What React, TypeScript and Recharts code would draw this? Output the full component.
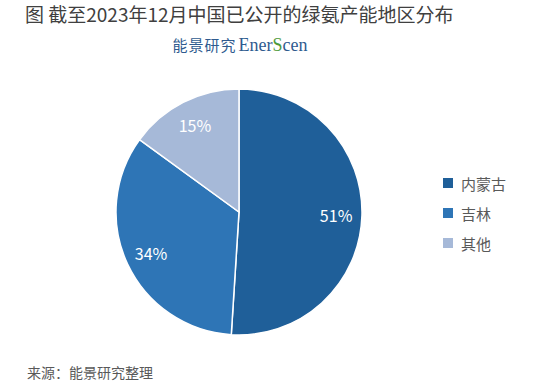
import { PieChart, Pie, Cell, Legend } from "recharts";

const regions = ["内蒙古", "吉林", "其他"];
const shares = [51, 34, 15];
const colors = ["#1f5f99", "#2e75b6", "#a6b9d8"];

const data = regions.map((name, i) => ({ name, value: shares[i] }));

const RAD = Math.PI / 180;
const CJK = '"Noto Sans CJK SC", "Noto Sans", sans-serif';

// white percent labels inside slices
const renderLabel = (props: any) => {
  const { cx, cy, midAngle, outerRadius, value } = props;
  const r = outerRadius * 0.79;
  const x = cx + r * Math.cos(-midAngle * RAD);
  const y = cy + r * Math.sin(-midAngle * RAD);
  return (
    <text
      x={x}
      y={y}
      fill="#ffffff"
      fontSize={16}
      fontFamily={CJK}
      textAnchor="middle"
      dominantBaseline="central"
    >
      {value}%
    </text>
  );
};

const renderLegend = () => (
  <div style={{ fontFamily: CJK }}>
    {regions.map((name, i) => (
      <div
        key={name}
        style={{ display: "flex", alignItems: "center", height: 30 }}
      >
        <span
          style={{
            width: 10,
            height: 10,
            background: colors[i],
            marginRight: 8,
            display: "inline-block",
          }}
        />
        <span style={{ fontSize: 15, color: "#595959" }}>{name}</span>
      </div>
    ))}
  </div>
);

export default function App() {
  return (
    <div
      style={{
        position: "absolute",
        left: 0,
        top: 0,
        width: 542,
        height: 384,
        background: "#ffffff",
        overflow: "hidden",
      }}
    >
      {/* Title */}
      <div
        style={{
          position: "absolute",
          left: 25,
          top: 2,
          fontFamily: CJK,
          fontSize: 19,
          color: "#404040",
          whiteSpace: "nowrap",
          lineHeight: "24px",
        }}
      >
        图 截至2023年12月中国已公开的绿氨产能地区分布
      </div>

      {/* Watermark */}
      <div
        style={{
          position: "absolute",
          left: 0,
          width: 480,
          top: 33,
          textAlign: "center",
          whiteSpace: "nowrap",
          lineHeight: "24px",
          color: "#2f5b8f",
        }}
      >
        <span style={{ fontFamily: '"Noto Sans CJK SC", serif', fontSize: 15, letterSpacing: 1 }}>
          能景研究
        </span>
        <span style={{ fontFamily: '"Liberation Serif", serif', fontSize: 18, marginLeft: 2 }}>
          Ener<span style={{ color: "#4e9a3a" }}>S</span>cen
        </span>
      </div>

      <PieChart
        width={542}
        height={384}
        margin={{ top: 0, right: 0, bottom: 0, left: 0 }}
        style={{ position: "absolute", left: 0, top: 0 }}
      >
        <Pie
          data={data}
          dataKey="value"
          nameKey="name"
          cx={239}
          cy={212}
          outerRadius={123}
          startAngle={90}
          endAngle={-270}
          stroke="#ffffff"
          strokeWidth={1.5}
          label={renderLabel}
          labelLine={false}
          isAnimationActive={false}
        >
          {data.map((d, i) => (
            <Cell key={d.name} fill={colors[i]} />
          ))}
        </Pie>
        <Legend
          layout="vertical"
          align="right"
          verticalAlign="middle"
          content={renderLegend}
          wrapperStyle={{ left: 443, top: 168, width: 100 }}
        />
      </PieChart>

      {/* Source */}
      <div
        style={{
          position: "absolute",
          left: 27,
          top: 362,
          fontFamily: CJK,
          fontSize: 14,
          color: "#595959",
          whiteSpace: "nowrap",
          lineHeight: "20px",
        }}
      >
        来源：能景研究整理
      </div>
    </div>
  );
}
